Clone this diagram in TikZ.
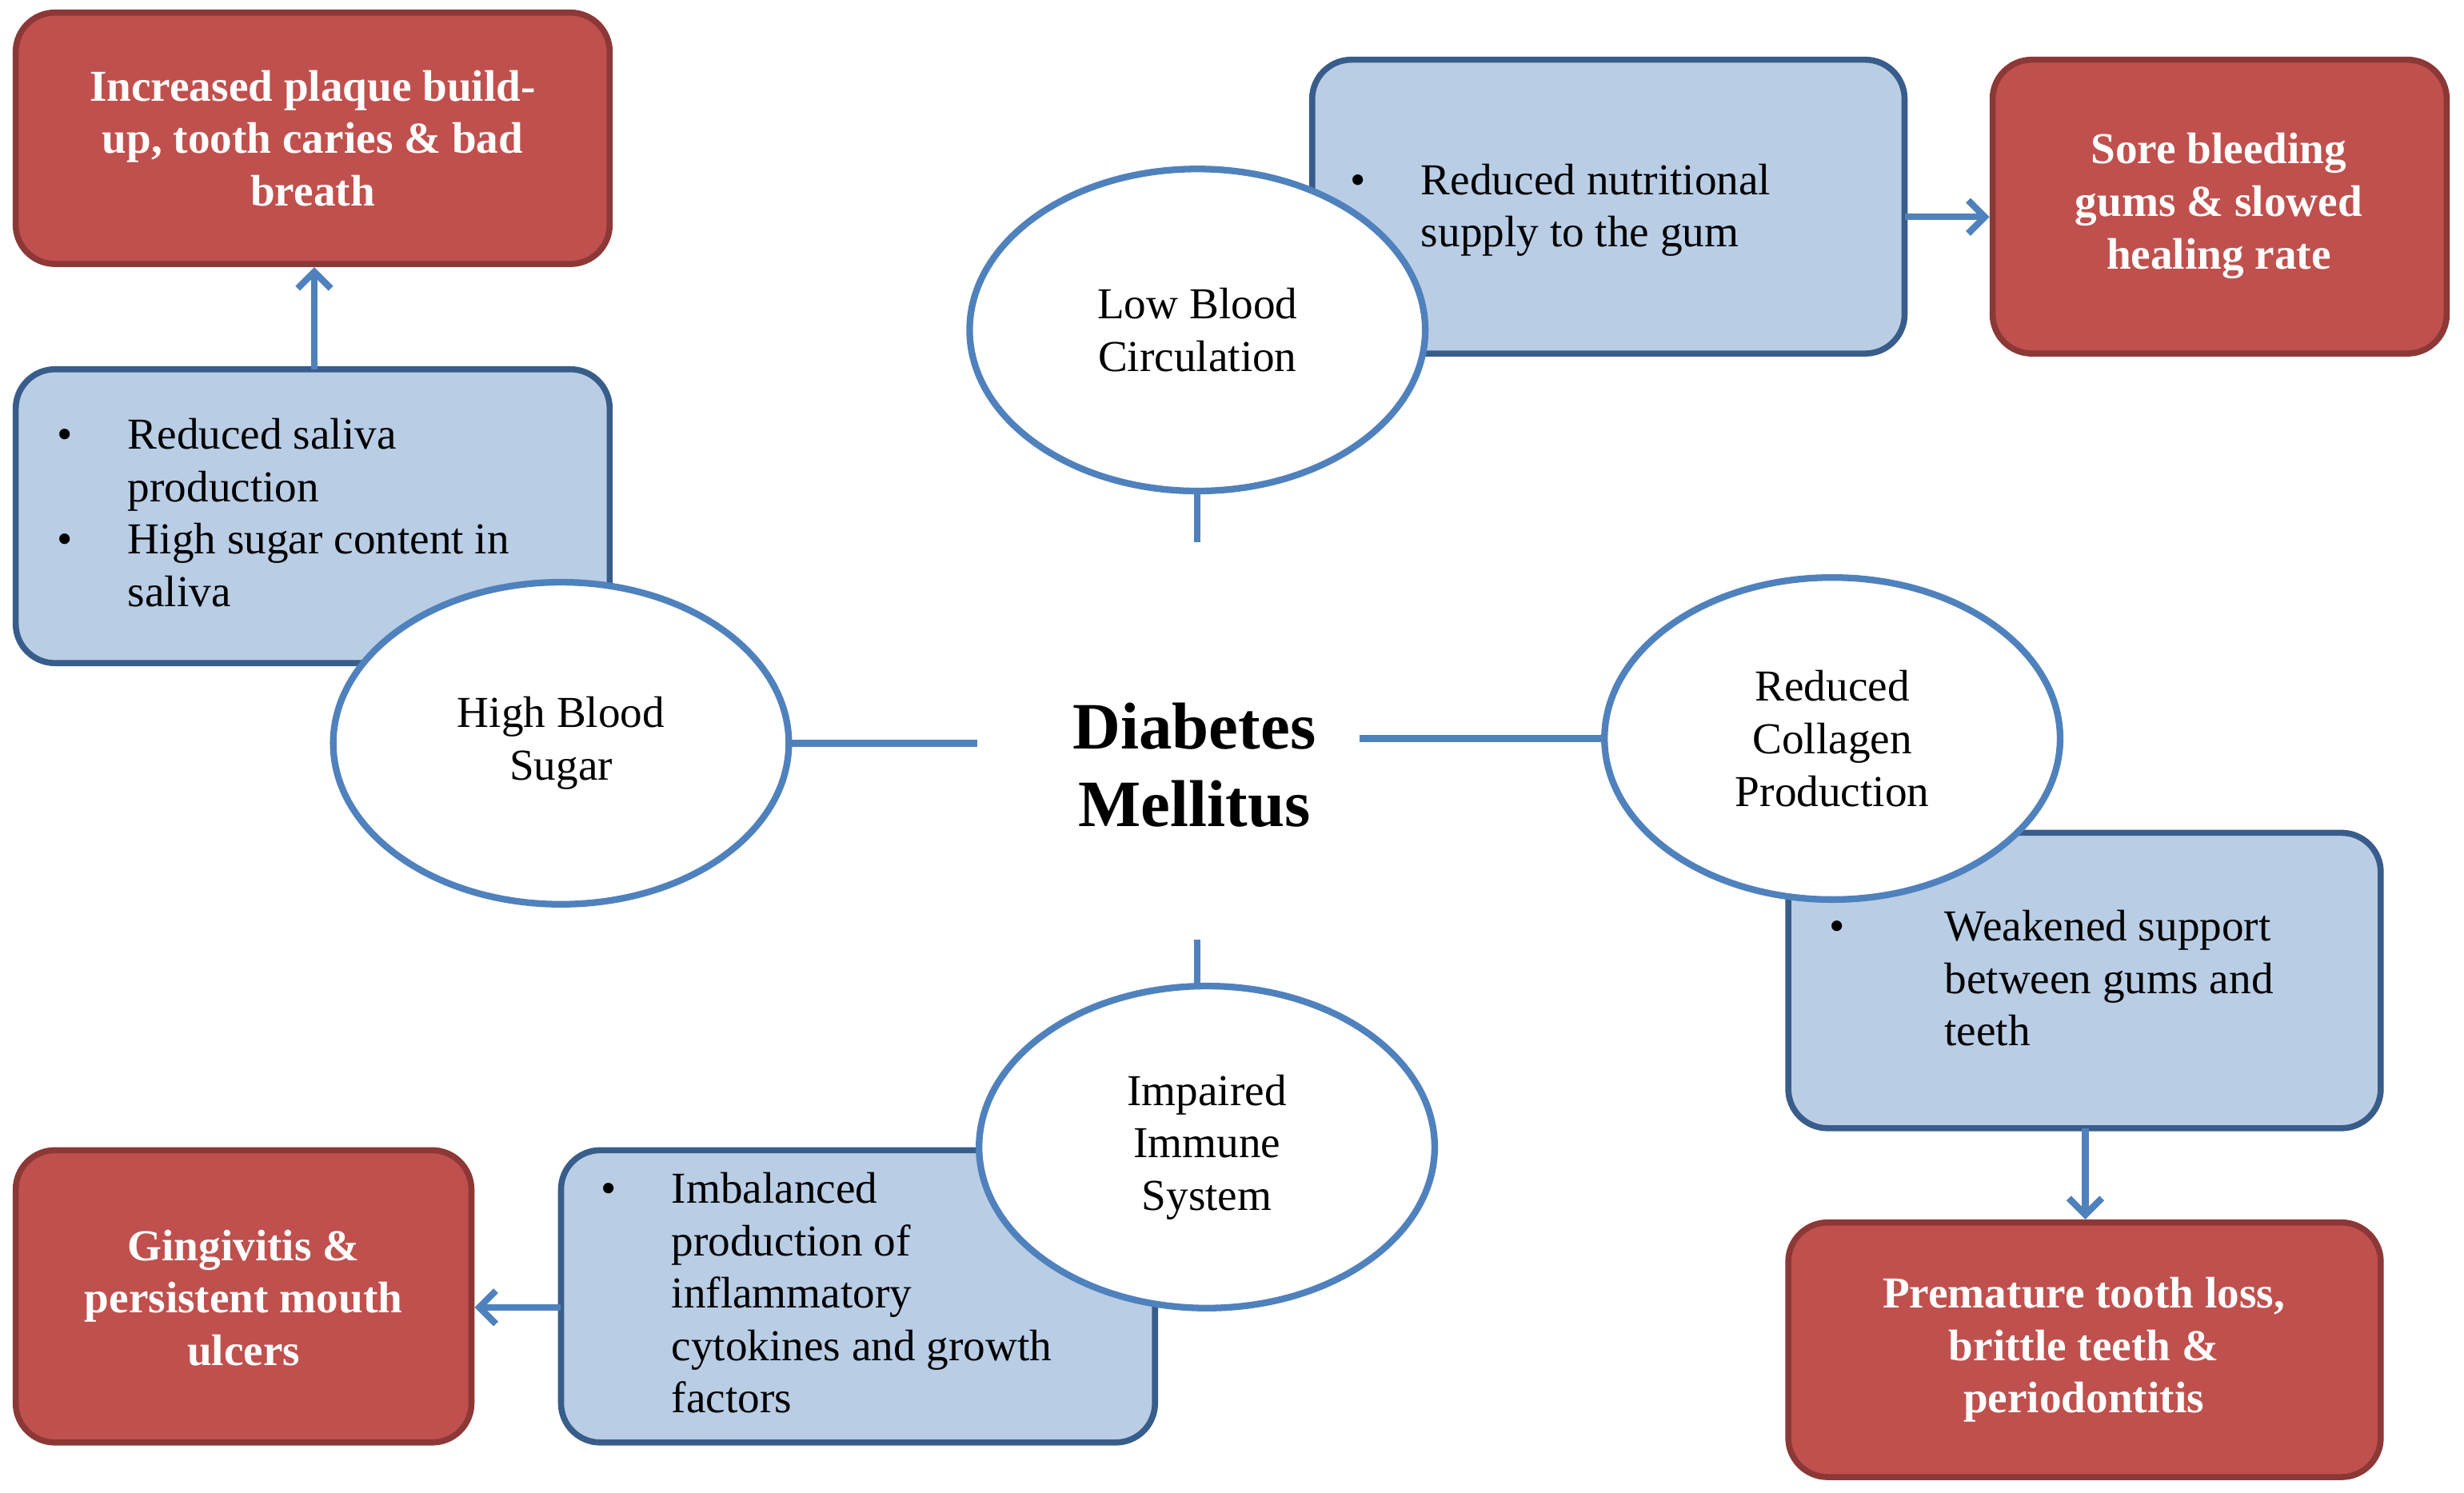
\documentclass[tikz,border=0pt]{standalone}
\usepackage{fontspec}
\setmainfont{Liberation Serif}
\usetikzlibrary{arrows.meta,shapes.geometric}
\definecolor{redf}{HTML}{C0504D}
\definecolor{redb}{HTML}{8C3836}
\definecolor{bluef}{HTML}{B9CDE5}
\definecolor{blueb}{HTML}{385D8A}
\definecolor{ell}{HTML}{4F81BD}
\begin{document}
\begin{tikzpicture}[x=0.02cm,y=-0.02cm,
 redbox/.style={draw=redb,fill=redf,line width=2.2pt,rounded corners=0.5cm},
 bluebox/.style={draw=blueb,fill=bluef,line width=2.2pt,rounded corners=0.5cm},
 redtxt/.style={text=white,font=\fontsize{16}{19}\selectfont\bfseries,align=center},
 bltxt/.style={font=\fontsize{16}{19}\selectfont,anchor=north west,inner sep=0pt},
 ov/.style={ellipse,draw=ell,fill=white,line width=2.4pt,minimum width=5.8cm,minimum height=4.1cm,font=\fontsize{16}{19}\selectfont,align=center},
 conn/.style={draw=ell,line width=2.4pt},
 arr/.style={conn,-{Straight Barb[length=6pt,width=12pt]}}]
\useasboundingbox (0,0) rectangle (1568,950);
% red boxes
\draw[redbox] (10,8) rectangle (388,168);
\node[redtxt] (r1) at (199,88) {Increased plaque build-\\up, tooth caries \& bad\\breath};
\draw[redbox] (1268,38) rectangle (1557,225);
\node[redtxt] (r2) at (1412,131) {Sore bleeding\\gums \& slowed\\healing rate};
\draw[redbox] (1138,778) rectangle (1515,940);
\node[redtxt] (r3) at (1326,859) {Premature tooth loss,\\brittle teeth \&\\periodontitis};
\draw[redbox] (10,732) rectangle (300,918);
\node[redtxt] (r4) at (155,826) {Gingivitis \&\\persistent mouth\\ulcers};
% blue boxes
\draw[bluebox] (10,235) rectangle (388,422);
\node[bltxt] (b1) at (36,262) {\begin{tabular}{@{}l@{\hspace{20pt}}p{5.8cm}@{}}\textbullet & Reduced saliva\newline production\\ \textbullet & High sugar content in\newline saliva\end{tabular}};
\draw[bluebox] (835,38) rectangle (1212,225);
\node[bltxt] (b2) at (859,100) {\begin{tabular}{@{}l@{\hspace{20pt}}p{5.6cm}@{}}\textbullet & Reduced nutritional\newline supply to the gum\end{tabular}};
\draw[bluebox] (1138,530) rectangle (1515,718);
\node[bltxt] (b3) at (1164,575) {\begin{tabular}{@{}l@{\hspace{36pt}}p{5.2cm}@{}}\textbullet & Weakened support\newline between gums and\newline teeth\end{tabular}};
\draw[bluebox] (357,732) rectangle (735,918);
\node[bltxt] (b4) at (382,742) {\begin{tabular}{@{}l@{\hspace{20pt}}p{5.8cm}@{}}\textbullet & Imbalanced\newline production of\newline inflammatory\newline cytokines and growth\newline factors\end{tabular}};
% arrows
\coordinate (a1s) at (200,235); \coordinate (a1e) at (200,170);
\draw[arr] (a1s) -- (a1e);
\coordinate (a2s) at (1212,138); \coordinate (a2e) at (1266,138);
\draw[arr] (a2s) -- (a2e);
\coordinate (a3s) at (1327,718); \coordinate (a3e) at (1327,776);
\draw[arr] (a3s) -- (a3e);
\coordinate (a4s) at (357,832); \coordinate (a4e) at (302,832);
\draw[arr] (a4s) -- (a4e);
% ellipses
\node[ov] (e1) at (357,473) {High Blood\\Sugar};
\node[ov] (e2) at (762,210) {Low Blood\\Circulation};
\node[ov] (e3) at (1166,470) {Reduced\\Collagen\\Production};
\node[ov] (e4) at (768,730) {Impaired\\Immune\\System};
\node[font=\fontsize{24}{28}\selectfont\bfseries,align=center] (dm) at (760,487) {Diabetes\\Mellitus};
\coordinate (c1) at (622,473);
\coordinate (c2) at (762,345);
\coordinate (c3) at (865,470);
\coordinate (c4) at (762,598);
\draw[conn] (e1.east) -- (c1);
\draw[conn] (e2.south) -- (c2);
\draw[conn] (c3) -- (e3.west);
\draw[conn] (c4) -- (762,628);
\end{tikzpicture}
\end{document}
